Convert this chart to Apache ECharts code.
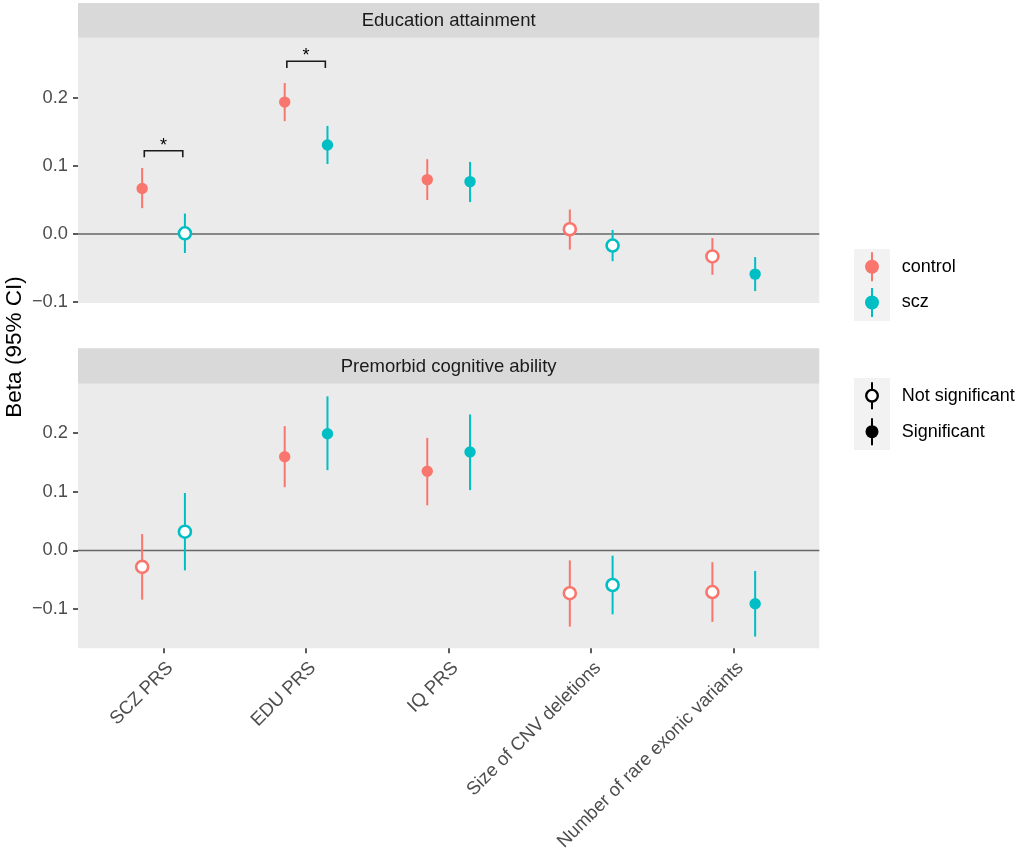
<!DOCTYPE html>
<html><head><meta charset="utf-8">
<script src="https://cdn.jsdelivr.net/npm/echarts@6/dist/echarts.min.js"></script>
<style>html,body{margin:0;padding:0;background:#fff}#c{width:1022px;height:851px}</style>
</head><body><div id="c"></div>
<script>
// ---------- data ----------
const categories = ['SCZ PRS', 'EDU PRS', 'IQ PRS', 'Size of CNV deletions', 'Number of rare exonic variants'];
const groups = ['control', 'scz'];
const facets = ['Education attainment', 'Premorbid cognitive ability'];
const yTicks = [-0.1, 0, 0.1, 0.2];
const shapeLegend = ['Not significant', 'Significant'];

// Education attainment
const eduControlEst = [0.067, 0.194, 0.080, 0.007, -0.033];
const eduControlLo  = [0.038, 0.166, 0.050, -0.023, -0.060];
const eduControlHi  = [0.097, 0.222, 0.110, 0.036, -0.006];
const eduControlSig = [1, 1, 1, 0, 0];
const eduSczEst = [0.001, 0.131, 0.077, -0.017, -0.059];
const eduSczLo  = [-0.028, 0.103, 0.047, -0.040, -0.084];
const eduSczHi  = [0.030, 0.159, 0.106, 0.006, -0.034];
const eduSczSig = [0, 1, 1, 0, 1];

// Premorbid cognitive ability
const cogControlEst = [-0.028, 0.160, 0.135, -0.073, -0.071];
const cogControlLo  = [-0.084, 0.108, 0.077, -0.130, -0.122];
const cogControlHi  = [0.028, 0.212, 0.192, -0.017, -0.020];
const cogControlSig = [0, 1, 1, 0, 0];
const cogSczEst = [0.032, 0.199, 0.168, -0.059, -0.091];
const cogSczLo  = [-0.034, 0.137, 0.103, -0.109, -0.147];
const cogSczHi  = [0.098, 0.263, 0.232, -0.009, -0.035];
const cogSczSig = [0, 1, 1, 0, 1];

// significance brackets (Education attainment panel)
const bracketCategory = ['SCZ PRS', 'EDU PRS'];
const bracketY = [0.1225, 0.254];
const bracketLabel = ['*', '*'];

// ---------- styling / layout ----------
const FONT = "'Liberation Sans', Arial, Helvetica, sans-serif";
const COLORS = { control: '#F8766D', scz: '#00BFC4' };
const DODGE = 0.15;
const PL = 78, PR = 819.3;
const panels = [
  { stripTop: 3, top: 37.7, bottom: 303, min: -0.1015, max: 0.2887 },
  { stripTop: 348.3, top: 383.7, bottom: 648.3, min: -0.167, max: 0.2845 }
];

const chart = echarts.init(document.getElementById('c'), null, { renderer: 'canvas' });

const fmtY = v => (v < -1e-9 ? '\u2212' + Math.abs(v).toFixed(1) : Math.abs(v).toFixed(1));
const catVals = categories.map((_, i) => i + 1);

const grids = panels.map(p => ({
  left: PL, width: PR - PL, top: p.top, height: p.bottom - p.top,
  show: true, backgroundColor: '#EBEBEB', borderWidth: 0,
  containLabel: false, outerBoundsMode: 'none'
}));

const xAxes = panels.map((p, k) => ({
  gridIndex: k, type: 'value', min: 0.4, max: 5.6, position: 'bottom',
  axisLine: { show: false, onZero: false }, splitLine: { show: false },
  axisTick: k === 1 ? { show: true, length: 5, lineStyle: { color: '#333', width: 1.6 }, customValues: catVals } : { show: false },
  axisLabel: k === 1 ? {
    show: true, customValues: catVals,
    formatter: v => categories[Math.round(v) - 1],
    rotate: 45, align: 'right', verticalAlign: 'top', margin: 10,
    fontSize: 18.6, color: '#4D4D4D', fontFamily: FONT
  } : { show: false }
}));

const yAxes = panels.map((p, k) => ({
  gridIndex: k, type: 'value', min: p.min, max: p.max,
  axisLine: { show: false, onZero: false }, splitLine: { show: false },
  axisTick: { show: true, length: 5, lineStyle: { color: '#333', width: 1.6 }, customValues: yTicks },
  axisLabel: { show: true, customValues: yTicks, formatter: fmtY, margin: 10, fontSize: 18.3, color: '#4D4D4D', fontFamily: FONT }
}));

function pointRenderer(color) {
  return function (params, api) {
    const x = api.value(0), est = api.value(1), lo = api.value(2), hi = api.value(3), sig = api.value(4);
    const pLo = api.coord([x, lo]), pHi = api.coord([x, hi]), p = api.coord([x, est]);
    return {
      type: 'group', children: [
        { type: 'line', shape: { x1: pLo[0], y1: pLo[1], x2: pHi[0], y2: pHi[1] }, style: { stroke: color, lineWidth: 2 } },
        sig ? { type: 'circle', shape: { cx: p[0], cy: p[1], r: 5.7 }, style: { fill: color } }
            : { type: 'circle', shape: { cx: p[0], cy: p[1], r: 6 }, style: { fill: '#ffffff', stroke: color, lineWidth: 2.6 } }
      ]
    };
  };
}

function buildData(est, lo, hi, sig, off) {
  return categories.map((c, i) => [i + 1 + off, est[i], lo[i], hi[i], sig[i]]);
}

const facetData = [
  { control: [eduControlEst, eduControlLo, eduControlHi, eduControlSig], scz: [eduSczEst, eduSczLo, eduSczHi, eduSczSig] },
  { control: [cogControlEst, cogControlLo, cogControlHi, cogControlSig], scz: [cogSczEst, cogSczLo, cogSczHi, cogSczSig] }
];

const series = [];
panels.forEach((p, k) => {
  // zero reference line
  series.push({
    type: 'custom', xAxisIndex: k, yAxisIndex: k, z: 1, silent: true,
    data: [[0]],
    renderItem: (params, api) => {
      const cs = params.coordSys;
      const y = api.coord([1, 0])[1];
      return { type: 'line', shape: { x1: cs.x, y1: y, x2: cs.x + cs.width, y2: y }, style: { stroke: '#666666', lineWidth: 1.6 } };
    }
  });
  groups.forEach(g => {
    const d = facetData[k][g];
    const off = g === 'control' ? -DODGE : DODGE;
    series.push({
      type: 'custom', name: g, xAxisIndex: k, yAxisIndex: k, z: 3,
      encode: { x: 0, y: [1, 2, 3] },
      data: buildData(d[0], d[1], d[2], d[3], off),
      renderItem: pointRenderer(COLORS[g])
    });
  });
});

// brackets
series.push({
  type: 'custom', xAxisIndex: 0, yAxisIndex: 0, z: 4, silent: true,
  data: bracketCategory.map((c, i) => [categories.indexOf(c) + 1, bracketY[i]]),
  renderItem: (params, api) => {
    const c = api.value(0), y = api.value(1);
    const half = 0.135, drop = 0.0097;
    const a = api.coord([c - half, y - drop]), b = api.coord([c - half, y]);
    const cc = api.coord([c + half, y]), d = api.coord([c + half, y - drop]);
    const mid = api.coord([c, y]);
    return {
      type: 'group', children: [
        { type: 'polyline', shape: { points: [a, b, cc, d] }, style: { stroke: '#1a1a1a', lineWidth: 1.6, fill: null } },
        { type: 'text', x: mid[0], y: mid[1] - 5, style: { text: bracketLabel[params.dataIndex], fontSize: 18, fontFamily: FONT, fill: '#000', align: 'center', verticalAlign: 'middle' } }
      ]
    };
  }
});

// graphics: strips, y title, legends
const graphic = [];
panels.forEach((p, k) => {
  graphic.push({ type: 'rect', left: PL, top: p.stripTop, shape: { width: PR - PL, height: p.top - p.stripTop }, style: { fill: '#D9D9D9' }, silent: true });
  graphic.push({ type: 'text', x: (PL + PR) / 2, y: (p.stripTop + p.top) / 2 + 0.5, style: { text: facets[k], fontSize: 18.5, fontFamily: FONT, fill: '#1A1A1A', align: 'center', verticalAlign: 'middle' }, silent: true });
});
graphic.push({ type: 'text', x: 15, y: 347, rotation: Math.PI / 2, style: { text: 'Beta (95% CI)', fontSize: 22.5, fontFamily: FONT, fill: '#000', align: 'center', verticalAlign: 'middle' }, silent: true });

// colour legend
const lgX = 854, keyW = 36, keyCx = 872, textX = 901.7;
const colLegY = [266.7, 302.5];
graphic.push({ type: 'rect', shape: { x: lgX, y: 249, width: keyW, height: 72 }, style: { fill: '#F2F2F2' }, silent: true });
groups.forEach((g, i) => {
  const cy = colLegY[i];
  graphic.push({ type: 'line', shape: { x1: keyCx, y1: cy - 14.5, x2: keyCx, y2: cy + 14.5 }, style: { stroke: COLORS[g], lineWidth: 2 }, silent: true });
  graphic.push({ type: 'circle', shape: { cx: keyCx, cy: cy, r: 7 }, style: { fill: COLORS[g] }, silent: true });
  graphic.push({ type: 'text', x: textX, y: cy, style: { text: g, fontSize: 18, fontFamily: FONT, fill: '#000', align: 'left', verticalAlign: 'middle' }, silent: true });
});

// shape legend
const shpLegY = [395.7, 431.7];
graphic.push({ type: 'rect', shape: { x: lgX, y: 378, width: keyW, height: 72 }, style: { fill: '#F2F2F2' }, silent: true });
shapeLegend.forEach((s, i) => {
  const cy = shpLegY[i];
  graphic.push({ type: 'line', shape: { x1: keyCx, y1: cy - 13.5, x2: keyCx, y2: cy + 13.5 }, style: { stroke: '#000', lineWidth: 2 }, silent: true });
  if (i === 0) graphic.push({ type: 'circle', shape: { cx: keyCx, cy: cy, r: 5.8 }, style: { fill: '#fff', stroke: '#000', lineWidth: 2.4 }, silent: true });
  else graphic.push({ type: 'circle', shape: { cx: keyCx, cy: cy, r: 6.5 }, style: { fill: '#000' }, silent: true });
  graphic.push({ type: 'text', x: textX, y: cy, style: { text: s, fontSize: 18, fontFamily: FONT, fill: '#000', align: 'left', verticalAlign: 'middle' }, silent: true });
});

chart.setOption({
  animation: false,
  backgroundColor: '#ffffff',
  textStyle: { fontFamily: FONT },
  grid: grids,
  xAxis: xAxes,
  yAxis: yAxes,
  series: series,
  graphic: graphic
});
</script>
</body></html>
